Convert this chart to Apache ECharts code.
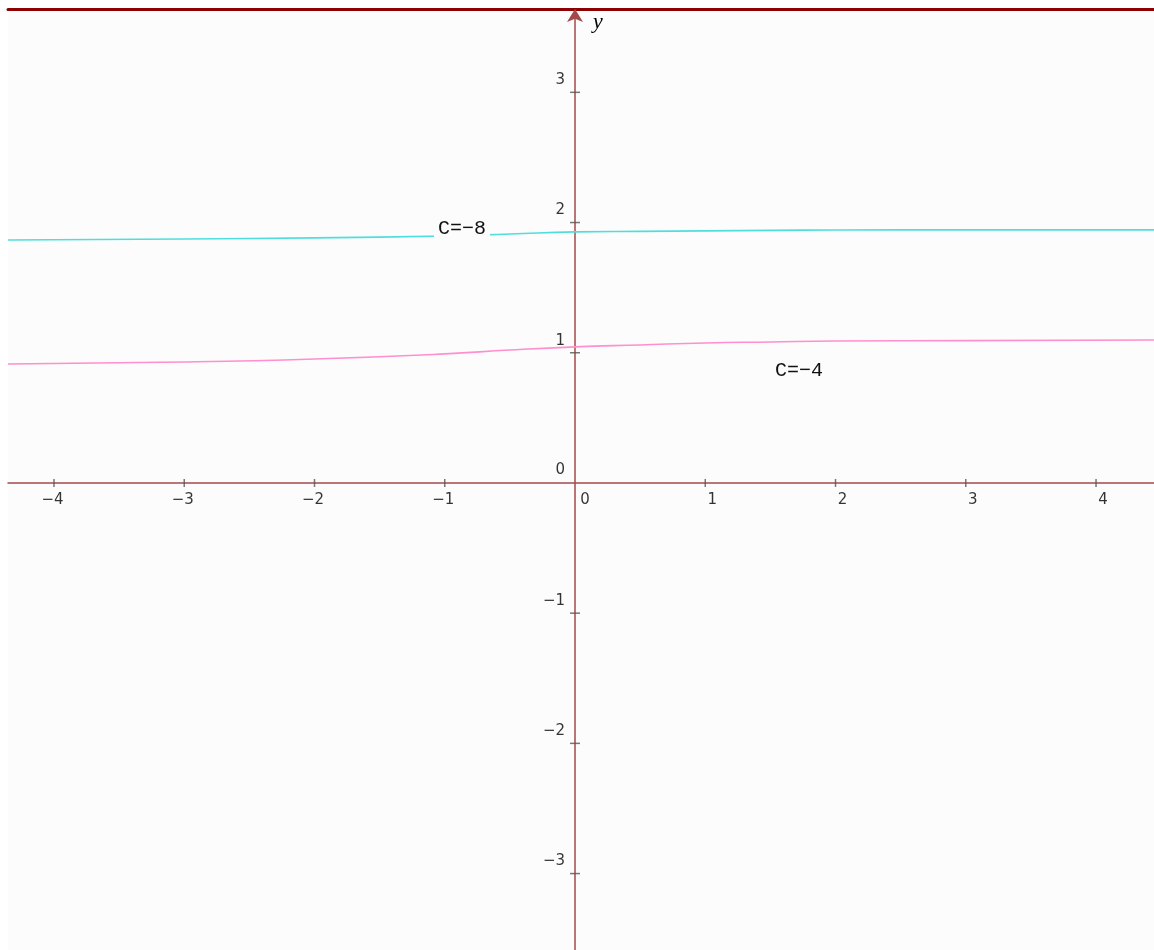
<!DOCTYPE html>
<html><head><meta charset="utf-8">
<script src="https://cdn.jsdelivr.net/npm/echarts@6/dist/echarts.min.js"></script>
<style>html,body{margin:0;padding:0;background:#fff}#c{width:1154px;height:950px}</style>
</head><body><div id="c"></div>
<script>
const xTicks = [-4, -3, -2, -1, 1, 2, 3, 4];
const yTicks = [-3, -2, -1, 1, 2, 3];
const xRange = [-4.353, 4.445];
const yRange = [-3.587, 3.64];

const cyanX = [-4.353, -3, -2, -1, -0.5, 0, 0.5, 1, 1.5, 2, 3, 4.445];
const cyanY = [1.866, 1.874, 1.882, 1.897, 1.912, 1.928, 1.932, 1.936, 1.940, 1.943, 1.944, 1.944];
const pinkX = [-4.353, -3, -2, -1, -0.5, 0, 0.5, 1, 1.5, 2, 3, 4.445];
const pinkY = [0.914, 0.929, 0.952, 0.991, 1.021, 1.045, 1.060, 1.075, 1.083, 1.090, 1.093, 1.098];

const labelCyan = { text: 'C=\u22128', x: -0.868, y: 1.955 };
const labelPink = { text: 'C=\u22124', x: 1.72, y: 0.86 };

const fmt = v => (v < 0 ? '\u2212' + Math.abs(v) : String(v));
const axisColor = '#a24a4a';
const tickFont = { fontFamily: 'DejaVu Sans', fontSize: 15, color: '#000' };
const chart = echarts.init(document.getElementById('c'), null, { renderer: 'canvas' });

function pairs(xs, ys) { return xs.map((x, i) => [x, ys[i]]); }

chart.setOption({
  backgroundColor: '#ffffff',
  animation: false,
  grid: { left: 8, right: 0, top: 9, bottom: 0, show: true, backgroundColor: '#fcfcfc', borderWidth: 0, containLabel: false, outerBoundsMode: 'none' },
  xAxis: [{
    type: 'value', min: xRange[0], max: xRange[1],
    axisLine: { onZero: true, lineStyle: { color: axisColor, width: 1.5 } },
    axisTick: { show: false }, splitLine: { show: false }, axisLabel: { show: false }
  }, {
    type: 'value', position: 'top', min: xRange[0], max: xRange[1],
    axisLine: { onZero: false, lineStyle: { color: '#8b0000', width: 3 } },
    axisTick: { show: false }, axisLabel: { show: false }, splitLine: { show: false }
  }],
  yAxis: {
    type: 'value', min: yRange[0], max: yRange[1],
    name: 'y', nameLocation: 'end', nameGap: -13,
    nameTextStyle: { fontFamily: 'Liberation Serif', fontStyle: 'italic', fontSize: 22, color: '#000', align: 'left', verticalAlign: 'middle', padding: [0, 0, 0, 18] },
    axisLine: { onZero: true, symbol: ['none', 'arrow'], symbolSize: [12, 13], lineStyle: { color: axisColor, width: 1.5 } },
    axisTick: { show: false }, splitLine: { show: false }, axisLabel: { show: false }
  },
  series: [
    {
      type: 'scatter', xAxisIndex: 0, symbol: 'rect', symbolSize: [1.5, 8], silent: true,
      itemStyle: { color: '#555' }, z: 5,
      label: {
        show: true, position: 'bottom', distance: 6,
        formatter: p => p.value[0] < 0 ? '{n|' + fmt(p.value[0]) + '}' : '{p|' + fmt(p.value[0]) + '}',
        rich: {
          n: Object.assign({ padding: [0, 3, 0, 0] }, tickFont),
          p: Object.assign({ padding: [0, 0, 0, 14] }, tickFont)
        }
      },
      data: xTicks.map(v => [v, 0])
    },
    {
      type: 'scatter', xAxisIndex: 0, symbol: 'rect', symbolSize: [10, 1.5], silent: true,
      itemStyle: { color: '#555' }, z: 5,
      label: Object.assign({ show: true, position: 'left', distance: 5, offset: [0, -12], formatter: p => fmt(p.value[1]) }, tickFont),
      data: yTicks.map(v => [0, v])
    },
    {
      type: 'scatter', xAxisIndex: 0, symbolSize: 0, silent: true, z: 5,
      label: Object.assign({ show: true, position: 'bottom', distance: 10, offset: [10, 0], formatter: '0' }, tickFont),
      data: [[0, 0]]
    },
    {
      type: 'scatter', xAxisIndex: 0, symbolSize: 0, silent: true, z: 5,
      label: Object.assign({ show: true, position: 'left', distance: 10, offset: [0, -13], formatter: '0' }, tickFont),
      data: [[0, 0]]
    },
    {
      type: 'line', xAxisIndex: 0, smooth: true, showSymbol: false, silent: true,
      lineStyle: { color: '#4fdede', width: 1.6 }, z: 3,
      data: pairs(cyanX, cyanY),
      markPoint: {
        symbol: 'circle', symbolSize: 0, silent: true,
        label: { show: true, position: 'inside', formatter: labelCyan.text, fontFamily: 'Liberation Mono', fontSize: 20, color: '#111', backgroundColor: '#fcfcfc', padding: [2, 4, 7, 4] },
        data: [{ coord: [labelCyan.x, labelCyan.y] }]
      }
    },
    {
      type: 'line', xAxisIndex: 0, smooth: true, showSymbol: false, silent: true,
      lineStyle: { color: '#ff8fcf', width: 1.6 }, z: 3,
      data: pairs(pinkX, pinkY),
      markPoint: {
        symbol: 'circle', symbolSize: 0, silent: true,
        label: { show: true, position: 'inside', formatter: labelPink.text, fontFamily: 'Liberation Mono', fontSize: 20, color: '#111' },
        data: [{ coord: [labelPink.x, labelPink.y] }]
      }
    }
  ]
});
</script>
</body></html>
